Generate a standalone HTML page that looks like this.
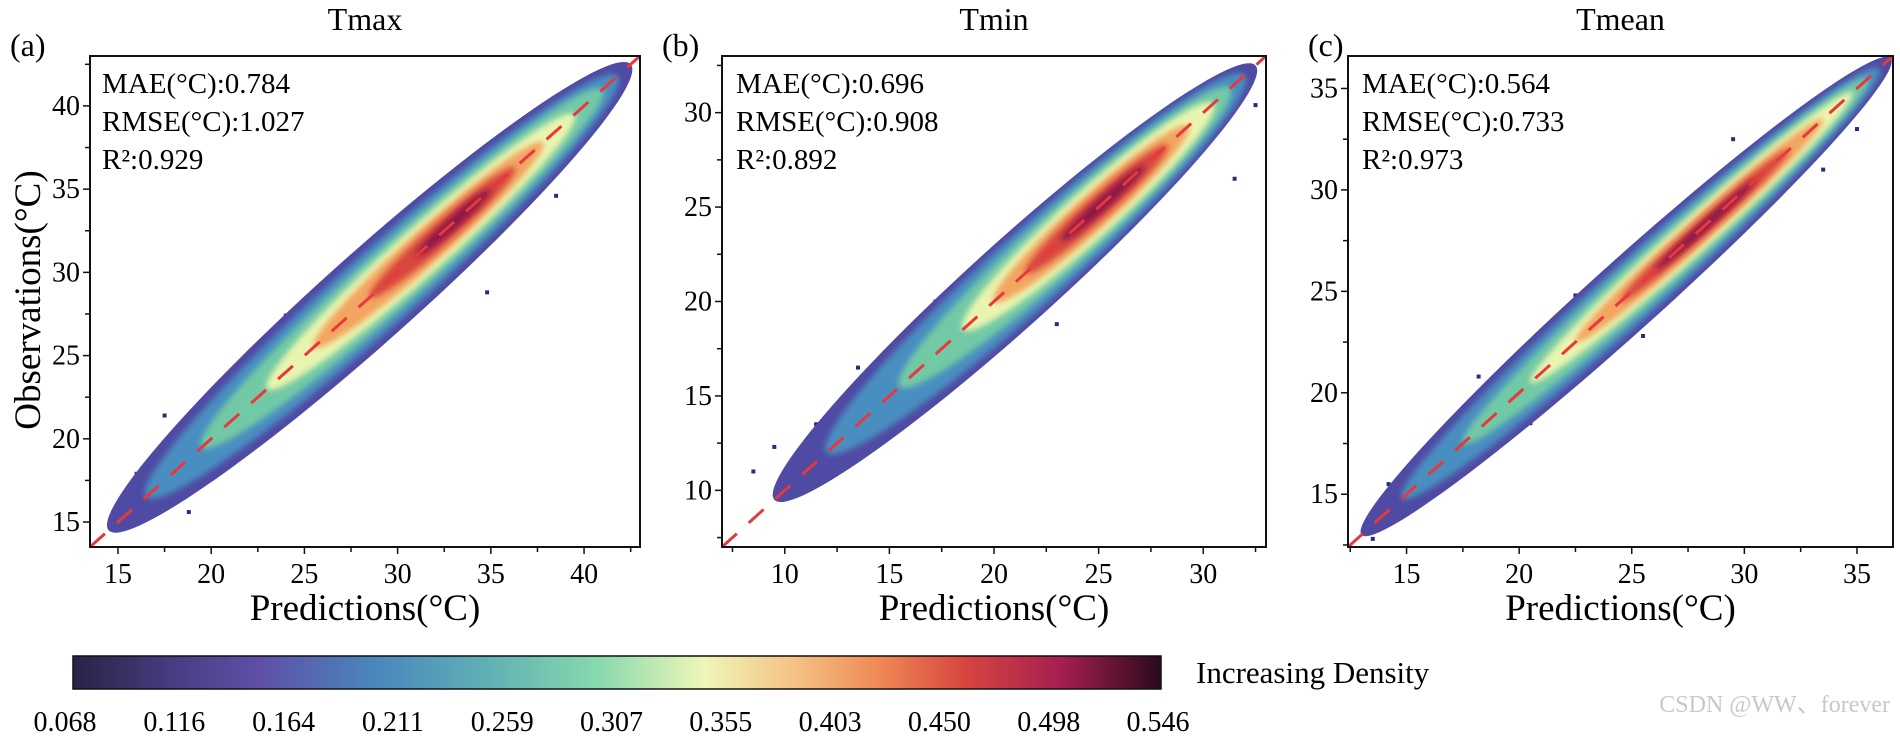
<!DOCTYPE html>
<html><head><meta charset="utf-8">
<style>
html,body{margin:0;padding:0;background:#fff;}
#root{position:relative;width:1900px;height:738px;overflow:hidden;font-family:"Liberation Serif",serif;color:#111;}
svg text{font-family:"Liberation Serif",serif;}
</style></head>
<body>
<div id="root">
<svg id="svg" width="1900" height="738" xmlns="http://www.w3.org/2000/svg">
<defs>
<linearGradient id="cmap" x1="0" x2="1" y1="0" y2="0">
<stop offset="0" stop-color="#2a2246"/>
<stop offset="0.1" stop-color="#4a3f86"/>
<stop offset="0.17" stop-color="#5e4ea6"/>
<stop offset="0.28" stop-color="#4a87bd"/>
<stop offset="0.38" stop-color="#5fb0b4"/>
<stop offset="0.48" stop-color="#86d8ae"/>
<stop offset="0.58" stop-color="#eef6b8"/>
<stop offset="0.66" stop-color="#f4c486"/>
<stop offset="0.74" stop-color="#ee8a55"/>
<stop offset="0.82" stop-color="#d8453f"/>
<stop offset="0.91" stop-color="#a41e50"/>
<stop offset="1" stop-color="#2a0a1c"/>
</linearGradient>
<filter id="soft" x="-20%" y="-20%" width="140%" height="140%"><feGaussianBlur stdDeviation="3"/></filter>
</defs>
</svg>
</div>
<script>
// ---------- data ----------
const panelTitles = ["Tmax","Tmin","Tmean"];
const panelLetters = ["(a)","(b)","(c)"];
const statMAE = ["0.784","0.696","0.564"];
const statRMSE = ["1.027","0.908","0.733"];
const statR2 = ["0.929","0.892","0.973"];
const xTicksA = [15,20,25,30,35,40];
const yTicksA = [15,20,25,30,35,40];
const xTicksB = [10,15,20,25,30];
const yTicksB = [10,15,20,25,30];
const xTicksC = [15,20,25,30,35];
const yTicksC = [15,20,25,30,35];
const domainA = [13.5,43];
const domainB = [7,33];
const domainC = [12.4,36.6];
// density levels: start, end (along y=x), vertical half-width
const levStartA = [14.5,16.5,19.5,23,25.5,28.5,31];
const levEndA   = [42.5,41.8,41,39.5,37.8,36.3,35];
const levHwA    = [3.6,3.0,2.4,1.9,1.4,0.95,0.5];
const levStartB = [9.5,12,15.5,18.5,20,21.5,23.2];
const levEndB   = [32.5,32,31.3,30.5,29.3,28.3,27.2];
const levHwB    = [3.0,2.6,2.1,1.7,1.25,0.85,0.45];
const levStartC = [13,14.8,17.5,20.5,22.5,24.5,26];
const levEndC   = [36.5,36,35.5,34.8,33.5,32,30.5];
const levHwC    = [2.3,1.9,1.5,1.15,0.85,0.58,0.32];
const levColors = ["#4f4aa3","#4a8ec0","#72c9a6","#e9f5ae","#f3a461","#d8473e","#8e1746"];
// outlier points
const outXA = [16,16.8,17.5,18.8,20.5,21.6,24,25.5,27.2,28,30.5,33.6,34.8,36.5,38.5];
const outYA = [17.9,16.2,21.4,15.6,23.2,20.6,27.4,23.3,30,26.7,31.8,35.3,28.8,38.2,34.6];
const outXB = [8.5,9.5,10.5,11.5,12.8,13.5,14.2,17.2,18.3,21,23,27.8,31.5,32.5];
const outYB = [11,12.3,10.5,13.5,11.8,16.5,13,20,15.8,23.5,18.8,29.5,26.5,30.4];
const outXC = [13.5,14.2,14.8,15.6,16.5,18.2,20.5,22.5,25.5,29.5,33.5,35];
const outYC = [12.8,15.5,14,17,15.2,20.8,18.5,24.8,22.8,32.5,31,33];
const cbarLabels = ["0.068","0.116","0.164","0.211","0.259","0.307","0.355","0.403","0.450","0.498","0.546"];

const panels = [
 {L:90,R:640,T:56,B:547,dom:domainA,xt:xTicksA,yt:yTicksA,ls:levStartA,le:levEndA,hw:levHwA,ox:outXA,oy:outYA,lx:10,sx:102},
 {L:722,R:1266,T:56,B:547,dom:domainB,xt:xTicksB,yt:yTicksB,ls:levStartB,le:levEndB,hw:levHwB,ox:outXB,oy:outYB,lx:662,sx:736},
 {L:1348,R:1893,T:56,B:547,dom:domainC,xt:xTicksC,yt:yTicksC,ls:levStartC,le:levEndC,hw:levHwC,ox:outXC,oy:outYC,lx:1308,sx:1362}
];
const NS="http://www.w3.org/2000/svg";
const svg=document.getElementById('svg');
function mk(tag,attrs,parent){const e=document.createElementNS(NS,tag);for(const k in attrs)e.setAttribute(k,attrs[k]);(parent||svg).appendChild(e);return e;}

panels.forEach((p,i)=>{
 const g=mk('g',{});
 
 
 const sx=v=>p.L+(v-p.dom[0])/(p.dom[1]-p.dom[0])*(p.R-p.L);
 const sy=v=>p.B-(v-p.dom[0])/(p.dom[1]-p.dom[0])*(p.B-p.T);
 const ky=(p.B-p.T)/(p.dom[1]-p.dom[0]), kx=(p.R-p.L)/(p.dom[1]-p.dom[0]);
 const perp=kx*ky/Math.sqrt(kx*kx+ky*ky);
 const clip=mk('clipPath',{id:'clip'+i},g);
 mk('rect',{x:p.L,y:p.T,width:p.R-p.L,height:p.B-p.T},clip);
 const cg=mk('g',{'clip-path':'url(#clip'+i+')'},g);
 // outliers
 p.ox.forEach((x,j)=>{
  const d=mk('rect',{x:sx(x)-2,y:sy(p.oy[j])-2,width:4,height:4,fill:'#2e2a7a'},cg);
  
  
 });
 // density levels as ellipses
 p.ls.forEach((s,j)=>{
  const x1=sx(s),y1=sy(s),x2=sx(p.le[j]),y2=sy(p.le[j]);
  const cx=(x1+x2)/2,cy=(y1+y2)/2;
  const rx=Math.hypot(x2-x1,y2-y1)/2;
  const ang=Math.atan2(y2-y1,x2-x1)*180/Math.PI;
  const el=mk('ellipse',{cx:cx,cy:cy,rx:rx,ry:p.hw[j]*perp,fill:levColors[j],transform:`rotate(${ang} ${cx} ${cy})`,filter: j===0?'':'url(#soft)'},cg);
  
  
 });
 // 1:1 line
 const dl=mk('line',{x1:sx(p.dom[0]),y1:sy(p.dom[0]),x2:sx(p.dom[1]),y2:sy(p.dom[1]),stroke:'#e8383d','stroke-width':3,'stroke-dasharray':'20 16'},cg);
 
 
 // frame
 const fr=mk('rect',{x:p.L,y:p.T,width:p.R-p.L,height:p.B-p.T,fill:'none',stroke:'#111','stroke-width':2},g);
 
 
 // ticks
 const step=p.xt[1]-p.xt[0];
 for(let v=Math.ceil(p.dom[0]/(step/2))*(step/2); v<=p.dom[1]; v+=step/2){
  const major=Math.abs(v/step-Math.round(v/step))<1e-6;
  const len=major?7:5;
  mk('line',{x1:sx(v),x2:sx(v),y1:p.B,y2:p.B+len,stroke:'#111','stroke-width':1.5},g);
  mk('line',{y1:sy(v),y2:sy(v),x1:p.L,x2:p.L-len,stroke:'#111','stroke-width':1.5},g);
 }
 p.xt.forEach(v=>{
  const t=mk('text',{x:sx(v),y:p.B+36,'text-anchor':'middle','font-size':28},g);t.textContent=v;
  
  
 });
 p.yt.forEach(v=>{
  const t=mk('text',{x:p.L-10,y:sy(v)+9,'text-anchor':'end','font-size':28},g);t.textContent=v;
  
  
 });
 const ti=mk('text',{x:(p.L+p.R)/2,y:30,'text-anchor':'middle','font-size':32},g);ti.textContent=panelTitles[i];
 
 
 const le=mk('text',{x:p.lx,y:56,'font-size':32},g);le.textContent=panelLetters[i];
 
 
 const lines=["MAE(°C):"+statMAE[i],"RMSE(°C):"+statRMSE[i],"R²:"+statR2[i]];
 lines.forEach((s,j)=>{
  const t=mk('text',{x:p.sx,y:93+j*38,'font-size':29},g);t.textContent=s;
  
  
 });
 const xl=mk('text',{x:(p.L+p.R)/2,y:620,'text-anchor':'middle','font-size':37},g);xl.textContent="Predictions(°C)";
 
 
});
const yl=mk('text',{x:0,y:0,'text-anchor':'middle','font-size':37,transform:'translate(40,300) rotate(-90)'});
yl.textContent="Observations(°C)";


// colorbar
const cb=mk('rect',{x:73,y:656,width:1088,height:33,fill:'url(#cmap)',stroke:'#111','stroke-width':1.5});


cbarLabels.forEach((s,j)=>{
 const t=mk('text',{x:65+j*109.3,y:731,'text-anchor':'middle','font-size':28});t.textContent=s;
 
 
});
const ct=mk('text',{x:1196,y:683,'font-size':31});ct.textContent="Increasing Density";


const wm=mk('text',{x:1890,y:712,'text-anchor':'end','font-size':24,fill:'#c8c8c8','font-family':'Liberation Sans, Noto Sans CJK SC, sans-serif'});
wm.textContent="CSDN @WW、forever";


</script>
</body></html>
